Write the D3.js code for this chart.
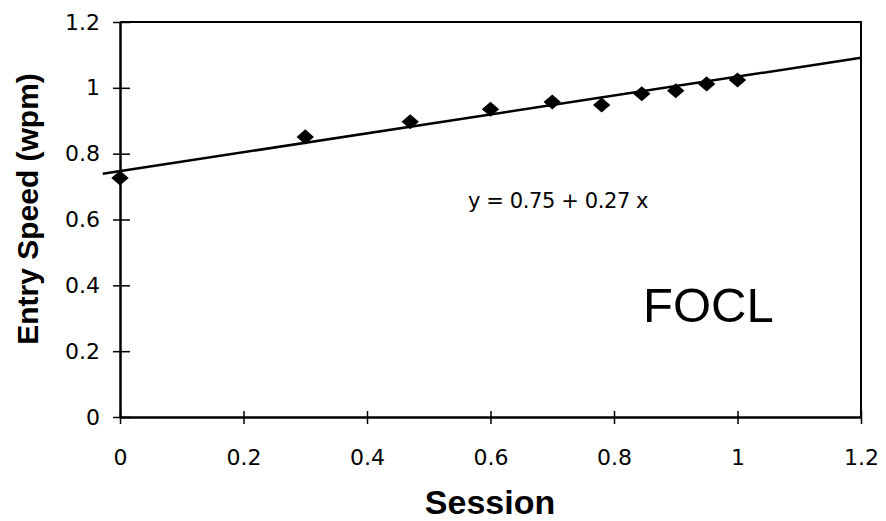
<!DOCTYPE html>
<html lang="en">
<head>
    <meta charset="UTF-8">
    <title>FOCL entry speed</title>
    <script src="https://d3js.org/d3.v7.min.js"></script>
    <style>
        body { margin: 0; background: #fff; }
    </style>
</head>
<body>
    <svg width="886" height="521"></svg>
    <script>
        // values (session as log10)
        const sessionX = [0, 0.30, 0.47, 0.60, 0.70, 0.78, 0.845, 0.90, 0.95, 1.0];
        const speedY = [0.726, 0.851, 0.897, 0.935, 0.957, 0.948, 0.982, 0.991, 1.012, 1.024];
        const xTicks = [0, 0.2, 0.4, 0.6, 0.8, 1, 1.2];
        const yTicks = [0, 0.2, 0.4, 0.6, 0.8, 1, 1.2];
        const fitIntercept = 0.747;
        const fitSlope = 0.287;
        const fitRange = [-0.028, 1.2];

        const svg = d3.select("svg");
        const plotL = 120, plotR = 861, plotT = 22, plotB = 417;
        const tickFont = "'DejaVu Sans', sans-serif";

        const x = d3.scaleLinear().domain([0, 1.2]).range([plotL, plotR]);
        const y = d3.scaleLinear().domain([0, 1.2]).range([plotB, plotT]);

        // frame (top + right)
        svg.append("path")
            .attr("d", `M${plotL},${plotT}H${plotR}V${plotB}`)
            .attr("fill", "none")
            .attr("stroke", "#000")
            .attr("stroke-width", 2);

        const xAxis = svg.append("g")
            .attr("transform", `translate(0,${plotB})`)
            .call(d3.axisBottom(x).tickValues(xTicks).tickFormat(d3.format("~g")).tickSizeOuter(0));
        xAxis.selectAll(".tick line").attr("y1", -6).attr("y2", 7).attr("stroke-width", 1.5);
        xAxis.selectAll(".tick text").attr("y", 32).attr("dy", "0.71em")
            .style("font-family", tickFont).style("font-size", "22px");

        const yAxis = svg.append("g")
            .attr("transform", `translate(${plotL},0)`)
            .call(d3.axisLeft(y).tickValues(yTicks).tickFormat(d3.format("~g")).tickSizeOuter(0));
        yAxis.selectAll(".tick line").attr("x1", -7).attr("x2", 10).attr("stroke-width", 1.5);
        yAxis.selectAll(".tick text").attr("x", -20)
            .style("font-family", tickFont).style("font-size", "22px");

        svg.selectAll(".domain").attr("stroke-width", 2.5);

        // fitted line
        svg.append("line")
            .attr("x1", x(fitRange[0]))
            .attr("y1", y(fitIntercept + fitSlope * fitRange[0]))
            .attr("x2", x(fitRange[1]))
            .attr("y2", y(fitIntercept + fitSlope * fitRange[1]))
            .attr("stroke", "#000")
            .attr("stroke-width", 2.5);

        // diamonds
        const diamond = d3.symbol(d3.symbolSquare, 125);
        svg.selectAll(".pt")
            .data(sessionX.map((s, i) => [s, speedY[i]]))
            .enter().append("path")
            .attr("class", "pt")
            .attr("d", diamond)
            .attr("transform", d => `translate(${x(d[0])},${y(d[1])}) scale(1.1,0.95) rotate(45)`)
            .attr("fill", "#000");

        svg.append("text")
            .attr("x", 468)
            .attr("y", 208)
            .attr("font-family", tickFont)
            .attr("font-size", 21)
            .attr("letter-spacing", -0.4)
            .text("y = 0.75 + 0.27 x");

        svg.append("text")
            .attr("x", 643)
            .attr("y", 322)
            .attr("font-family", "Liberation Sans, Arial, sans-serif")
            .attr("font-size", 49)
            .text("FOCL");

        svg.append("text")
            .attr("x", 490)
            .attr("y", 514)
            .attr("text-anchor", "middle")
            .attr("font-family", "Liberation Sans, Arial, sans-serif")
            .attr("font-weight", "bold")
            .attr("font-size", 34)
            .text("Session");

        svg.append("text")
            .attr("transform", "translate(38,209) rotate(-90)")
            .attr("text-anchor", "middle")
            .attr("font-family", "Liberation Sans, Arial, sans-serif")
            .attr("font-weight", "bold")
            .attr("font-size", 30)
            .text("Entry Speed (wpm)");
    </script>
</body>
</html>
